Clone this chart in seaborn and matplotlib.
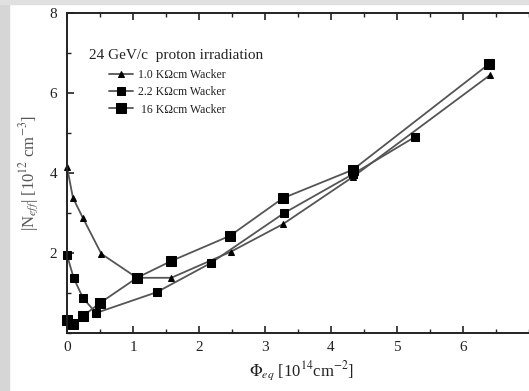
import matplotlib
matplotlib.use("Agg")
import matplotlib.pyplot as plt
from matplotlib.patches import Rectangle
from matplotlib.ticker import MultipleLocator
import seaborn as sns
import pandas as pd

# Data
x_1k0 = [0.0, 0.09, 0.24, 0.52, 1.06, 1.58, 2.48, 3.27, 4.33, 6.41]
y_1k0 = [4.15, 3.38, 2.88, 1.98, 1.38, 1.38, 2.03, 2.72, 3.90, 6.45]

x_2k2 = [0.0, 0.10, 0.24, 0.44, 1.36, 2.18, 3.29, 4.33, 5.27]
y_2k2 = [1.95, 1.38, 0.88, 0.50, 1.02, 1.75, 3.00, 3.97, 4.90]

x_16k = [0.0, 0.09, 0.24, 0.50, 1.06, 1.58, 2.47, 3.27, 4.33, 6.39]
y_16k = [0.33, 0.22, 0.42, 0.75, 1.38, 1.80, 2.43, 3.37, 4.08, 6.72]

labels = ["1.0 K\u03a9cm Wacker", "2.2 K\u03a9cm Wacker", " 16 K\u03a9cm Wacker"]
title_text = "24 GeV/c  proton irradiation"
x_ticks = [0, 1, 2, 3, 4, 5, 6]
y_ticks = [2, 4, 6, 8]

sns.set_theme(style="white")
plt.rcParams["font.family"] = ["Liberation Serif", "DejaVu Serif"]
plt.rcParams["mathtext.fontset"] = "stix"

fig = plt.figure(figsize=(5.29, 3.91), dpi=100)
fig.patch.set_facecolor("white")
# gray frame strips of the screenshot
fig.patches.append(Rectangle((0, 0), 9 / 529, 1, transform=fig.transFigure,
                             color="#d6d6d6", zorder=0))
fig.patches.append(Rectangle((0, 1 - 4 / 391), 1, 4 / 391, transform=fig.transFigure,
                             color="#e0e0e0", zorder=0))

ax = fig.add_axes([67 / 529, 58 / 391, (7.1 * 66) / 529, 320 / 391])
ax.set_facecolor("white")

series = [
    (x_1k0, y_1k0, labels[0], "^", 5),
    (x_2k2, y_2k2, labels[1], "s", 6),
    (x_16k, y_16k, labels[2], "s", 7),
]
for xs, ys, lab, mk, ms in series:
    df = pd.DataFrame({"x": xs, "y": ys})
    sns.lineplot(data=df, x="x", y="y", ax=ax, sort=False, color="#555555",
                 linewidth=1.3, marker=mk, markersize=ms, clip_on=False,
                 markerfacecolor="black", markeredgecolor="black", label=lab)

ax.set_xlim(0, 7.1)
ax.set_ylim(0, 8)
ax.set_xticks(x_ticks)
ax.set_yticks(y_ticks)
ax.xaxis.set_minor_locator(MultipleLocator(0.5))
ax.yaxis.set_minor_locator(MultipleLocator(1))
ax.tick_params(which="both", direction="in", top=True, bottom=True, left=True,
               right=False, labelsize=11, colors="#222222")
ax.tick_params(which="major", length=5, width=1.2)
ax.tick_params(which="minor", length=3, width=1.0)
ax.tick_params(axis="x", pad=6)
ax.tick_params(axis="y", pad=7)
for s in ["left", "bottom", "top"]:
    ax.spines[s].set_color("#222222")
    ax.spines[s].set_linewidth(1.4)
ax.spines["right"].set_visible(False)

ax.set_xlabel(r"$\Phi_{eq}$ [10$^{14}$cm$^{-2}$]", fontsize=12, color="#222222", labelpad=4)
ax.set_ylabel(r"|N$_{eff}$| [10$^{12}$ cm$^{-3}$]", fontsize=12, color="#555555", labelpad=6)

ax.text(0.33, 6.95, title_text, fontsize=11, color="#222222", va="center", ha="left")

leg = ax.legend(loc="upper left", bbox_to_anchor=(0.08, 0.84), frameon=False,
                fontsize=8.5, handlelength=2.0, handletextpad=0.4,
                labelspacing=0.45, borderaxespad=0)
for t in leg.get_texts():
    t.set_color("#222222")

fig.savefig("out.png", dpi=100, facecolor=fig.get_facecolor())
